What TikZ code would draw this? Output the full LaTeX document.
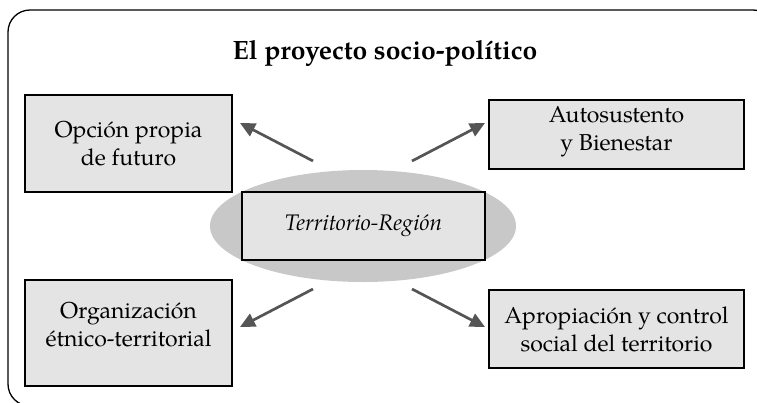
\documentclass[tikz,border=0pt]{standalone}
\usepackage{fontspec}
\setmainfont{texgyrepagella}[Extension=.otf, UprightFont=*-regular, BoldFont=*-bold, ItalicFont=*-italic, BoldItalicFont=*-bolditalic]
\usetikzlibrary{arrows.meta,shapes.geometric}
\definecolor{boxfill}{HTML}{E3E4E3}
\definecolor{ellfill}{HTML}{C8C8C8}
\definecolor{arrowcol}{HTML}{555555}
\tikzset{
  topic/.style={draw=black, line width=1.3pt, fill=boxfill, rectangle, inner sep=0pt, align=center,
    font=\fontsize{23}{28}\selectfont},
  topictext/.style={inner sep=0pt, align=center, font=\fontsize{23}{28}\selectfont},
  link/.style={draw=arrowcol, line width=2.7pt, -{Triangle[length=15pt,width=14pt]}},
}
\begin{document}
\begin{tikzpicture}[x=1pt,y=-1pt]
\useasboundingbox (0,0) rectangle (757,402);
\begin{scope}
\clip (0,0) rectangle (757,402);
\draw[line width=1.3pt, rounded corners=22pt] (8,10) rectangle (775,406);
\end{scope}
\node[font=\fontsize{26.5}{30}\selectfont\bfseries] (title) at (385,53) {El proyecto socio-político};
\node[ellipse, fill=ellfill, minimum width=306pt, minimum height=112pt, inner sep=0pt] (ell) at (363,226) {};
\node[topic, minimum width=243pt, minimum height=68pt, font=\fontsize{22.5}{28}\selectfont\itshape] (center) at (363.5,226) {Territorio-Región};
\node[topic, minimum width=207pt, minimum height=97pt] (tl) at (128.5,143.5) {Opción propia\\de futuro};
\node[topic, minimum width=255pt, minimum height=69pt] (tr) at (616.5,134.5) {};
\node[topictext] (trtext) at ([yshift=3pt]tr.center) {Autosustento\\y Bienestar};
\node[topic, minimum width=207pt, minimum height=106pt] (bl) at (128.5,333) {};
\node[topictext] (bltext) at ([yshift=8.5pt]bl.center) {Organización\\étnico-territorial};
\node[topic, minimum width=255pt, minimum height=78pt] (br) at (616.5,329) {Apropiación y control\\social del territorio};
\coordinate (tls) at (313,161);
\coordinate (tle) at (240,123);
\coordinate (trs) at (412,161);
\coordinate (tre) at (485,123);
\coordinate (bls) at (313,289);
\coordinate (ble) at (240,327);
\coordinate (brs) at (412,289);
\coordinate (bre) at (485,327);
\draw[link] (tls) -- (tle);
\draw[link] (trs) -- (tre);
\draw[link] (bls) -- (ble);
\draw[link] (brs) -- (bre);
\end{tikzpicture}
\end{document}
